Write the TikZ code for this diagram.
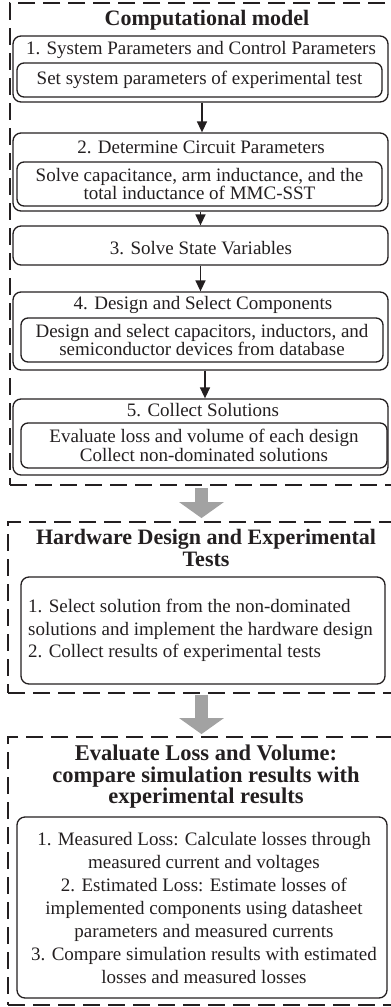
\documentclass[tikz,border=0pt]{standalone}
\usepackage{fontspec}
\setmainfont{Liberation Serif}
\usetikzlibrary{arrows.meta}
\definecolor{arrowgray}{RGB}{162,162,162}
\definecolor{ink}{RGB}{35,31,32}
\begin{document}
\begin{tikzpicture}[x=1pt,y=-1pt,
  frame/.style={draw=ink, dash pattern=on 17pt off 8pt, line width=1.8pt, inner sep=0pt},
  stage/.style={draw=ink, rounded corners=8pt, line width=1.3pt, inner sep=0pt},
  task/.style={draw=ink, rounded corners=7pt, line width=1.3pt, inner sep=0pt,
    text=ink, font=\fontsize{19}{18.5}\selectfont, align=center},
  note/.style={draw=ink, rounded corners=8pt, line width=1.3pt, inner sep=0pt, text=ink},
  txt/.style={text=ink, font=\fontsize{19}{18.5}\selectfont, align=center, inner sep=0pt},
  heading/.style={text=ink, font=\fontsize{22}{22}\selectfont\bfseries, align=center, inner sep=0pt},
  flow/.style={draw=ink, line width=1.5pt, -{Triangle[length=11pt,width=10pt]}},
  bigarrow/.style={draw=arrowgray, line width=13pt, -{Triangle[length=16pt,width=44pt]}}
]
\useasboundingbox (0,0) rectangle (391,1007);

% ---- outer dashed frames ----
\node[frame, minimum width=384pt, minimum height=482pt] (f1) at (202,244) {};
\node[frame, minimum width=383.5pt, minimum height=171pt] (f2) at (199.75,607.5) {};
\node[frame, minimum width=383.5pt, minimum height=268pt] (f3) at (199.75,871) {};

% ---- computational model ----
\node[heading] (t1) at (207,20) {Computational model};

\node[stage, minimum width=375pt, minimum height=66pt] (s1) at (200.5,69) {};
\node[txt] (s1h) at (201,50) {1. System Parameters and Control Parameters};
\node[task, minimum width=365pt, minimum height=34pt] (s1b) at (199.5,80)
  {Set system parameters of experimental test};

\node[stage, minimum width=375pt, minimum height=78pt] (s2) at (200.5,172) {};
\node[txt] (s2h) at (201,147) {2. Determine Circuit Parameters};
\node[task, minimum width=365pt, minimum height=44pt] (s2b) at (199.5,184)
  {Solve capacitance, arm inductance, and the\\ total inductance of MMC-SST};

\node[stage, minimum width=375pt, minimum height=39pt] (s3) at (200.5,245.5) {};
\node[txt] (s3h) at (201,248) {3. Solve State Variables};

\node[stage, minimum width=375pt, minimum height=78pt] (s4) at (200.5,331) {};
\node[txt] (s4h) at (203,305) {4. Design and Select Components};
\node[task, minimum width=362pt, minimum height=44pt] (s4b) at (202,340)
  {Design and select capacitors, inductors, and\\ semiconductor devices from database};

\node[stage, minimum width=375pt, minimum height=76pt] (s5) at (200.5,437) {};
\node[txt] (s5h) at (203,410) {5. Collect Solutions};
\node[task, minimum width=366pt, minimum height=45pt] (s5b) at (204,445.5)
  {Evaluate loss and volume of each design\\ Collect non-dominated solutions};

\draw[flow] ([xshift=1.5pt]s1.south) -- ([xshift=1.5pt]s2.north);
\draw[flow] (s2.south) -- (s3.north);
\draw[flow] (s3.south) -- (s4.north);
\draw[flow] ([xshift=4.5pt]s4.south) -- ([xshift=4.5pt]s5.north);

% ---- hardware design ----
\node[heading] (t2) at (206,548)
  {Hardware Design and Experimental\\ Tests};
\node[note, minimum width=364pt, minimum height=107pt] (h1) at (203,630.5) {};
\node[txt, align=left, anchor=west, font=\fontsize{19}{22.5}\selectfont] (h1t) at (28,630.5)
  {1. Select solution from the non-dominated\\
   solutions and implement the hardware design\\
   2. Collect results of experimental tests};

% ---- evaluation ----
\node[heading, font=\fontsize{22.5}{21.5}\selectfont\bfseries] (t3) at (206,777)
  {Evaluate Loss and Volume:\\ compare simulation results with\\ experimental results};
\node[note, minimum width=370pt, minimum height=181pt] (e1) at (202,907.5) {};
\node[txt, font=\fontsize{19}{23}\selectfont] (e1t) at (204,908)
  {1. Measured Loss: Calculate losses through\\
   measured current and voltages\\
   2. Estimated Loss: Estimate losses of\\
   implemented components using datasheet\\
   parameters and measured currents\\
   3. Compare simulation results with estimated\\
   losses and measured losses};

% ---- transitions between frames ----
\draw[bigarrow, shorten <=2pt, shorten >=3pt] ([xshift=-0.5pt]f1.south) -- ([xshift=1.75pt]f2.north);
\draw[bigarrow, shorten <=1pt, shorten >=2pt] ([xshift=1.75pt]f2.south) -- ([xshift=1.75pt]f3.north);
\end{tikzpicture}
\end{document}
